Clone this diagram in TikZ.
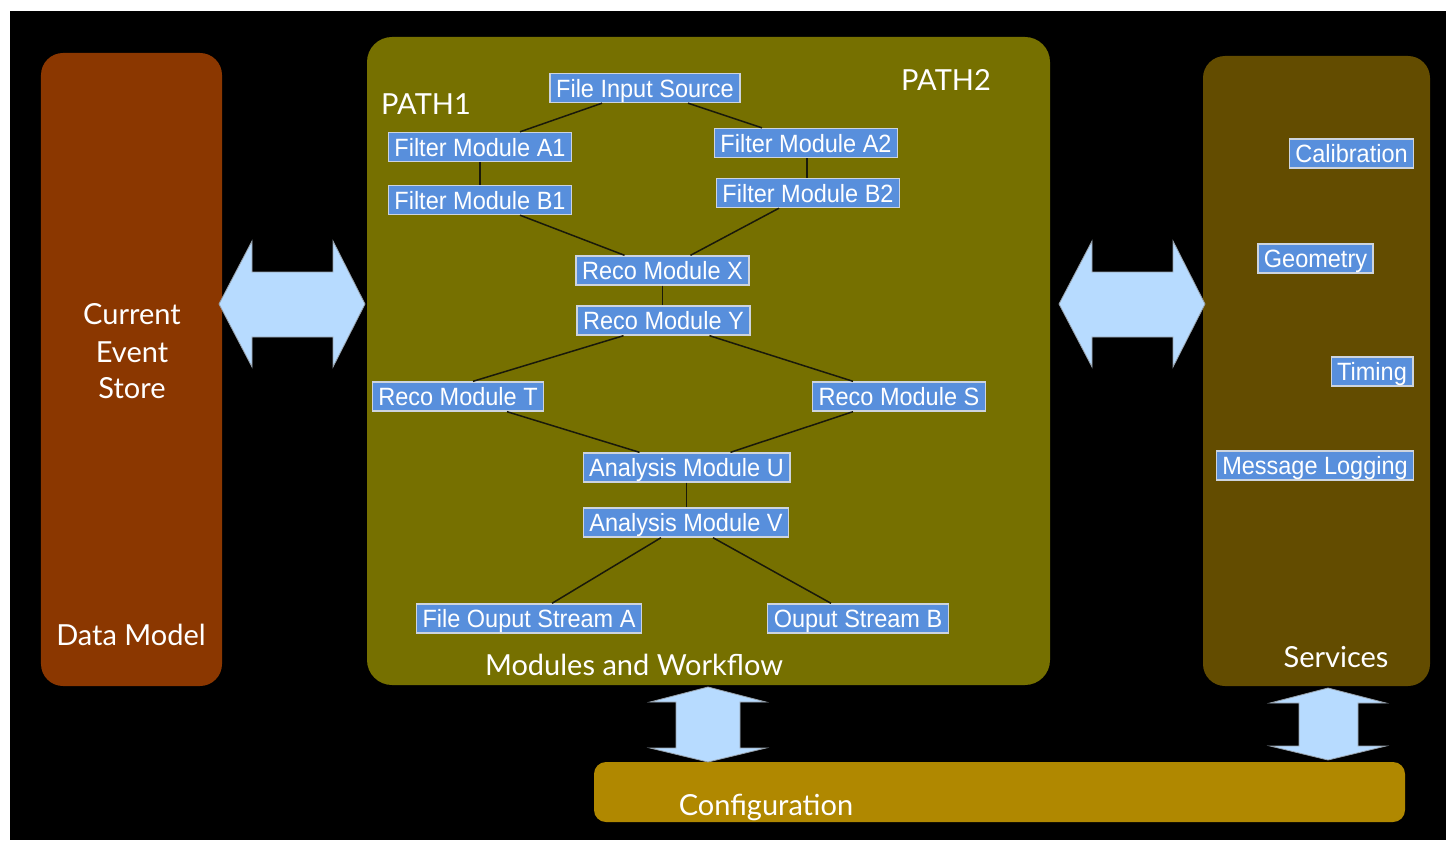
\documentclass[tikz,border=0pt]{standalone}
\usepackage{fontspec}
\setmainfont{Liberation Sans}
\newfontfamily\helv[FakeStretch=0.94]{Liberation Sans}
\newfontfamily\gill{Lato}
\usetikzlibrary{calc}
\definecolor{dmcol}{RGB}{139,55,0}
\definecolor{mwcol}{RGB}{118,112,0}
\definecolor{svcol}{RGB}{99,76,0}
\definecolor{cfcol}{RGB}{176,136,0}
\definecolor{arcol}{RGB}{183,219,255}
\definecolor{aredge}{RGB}{150,160,170}
\definecolor{modcol}{RGB}{88,143,220}
\definecolor{modedge}{RGB}{205,212,222}
\definecolor{linkcol}{RGB}{25,25,10}
\begin{document}
\begin{tikzpicture}[x=1bp,y=-1bp,
  panel/.style={rounded corners=22bp, inner sep=0pt, draw=none},
  mod/.style={fill=modcol, draw=modedge, line width=1.4bp, inner xsep=6bp, inner ysep=0pt,
    minimum height=29bp, text height=18bp, text depth=0bp, text=white,
    font=\helv\fontsize{25bp}{28bp}\selectfont},
  link/.style={draw=linkcol, line width=1.5bp},
  biglbl/.style={text=white, font=\gill\fontsize{29bp}{37bp}\selectfont, align=center, inner sep=0pt, anchor=base},
  bigarrow/.style={fill=arcol, draw=aredge, line width=0.8bp, line join=miter}
]
\useasboundingbox (0,0) rectangle (1446,840);
\fill[white] (0,0) rectangle (1446,840);
\fill[black] (10,11) rectangle (1446,840);

% panels
\node[panel, fill=dmcol, minimum width=181bp, minimum height=633bp] (datamodel) at (131.5,369.5) {};
\node[panel, fill=mwcol, minimum width=683bp, minimum height=648bp, rounded corners=25bp] (workflow) at (708.5,361) {};
\node[panel, fill=svcol, minimum width=227bp, minimum height=630bp] (services) at (1316.5,371) {};
\node[panel, fill=cfcol, minimum width=811bp, minimum height=60bp, rounded corners=12bp] (config) at (999.5,792) {};

% panel labels
\node[biglbl] (store) at (132,324) {Current};
\node[biglbl] (store2) at (132,362) {Event};
\node[biglbl] (store3) at (132,398) {Store};
\node[biglbl] (dmlbl) at (131,645) {Data Model};
\node[biglbl] (mwlbl) at (634,675) {Modules and Workflow};
\node[biglbl] (svlbl) at (1336,667) {Services};
\node[biglbl] (cflbl) at (766,815) {Configuration};
\node[biglbl] (path1) at (426,114) {PATH1};
\node[biglbl] (path2) at (946,90) {PATH2};

% big arrows
\draw[bigarrow] (219,304) -- (252,241) -- (252,272) -- (333,272) -- (333,241) -- (365,304)
  -- (333,367) -- (333,337) -- (252,337) -- (252,367) -- cycle;
\draw[bigarrow] (1059,304) -- (1092,241) -- (1092,272) -- (1173,272) -- (1173,241) -- (1205,304)
  -- (1173,367) -- (1173,337) -- (1092,337) -- (1092,367) -- cycle;
\draw[bigarrow] (708,687) -- (766,702) -- (740,702) -- (740,748) -- (766,748) -- (708,762)
  -- (650,748) -- (676,748) -- (676,702) -- (650,702) -- cycle;
\draw[bigarrow] (1328,688) -- (1386,703) -- (1358,703) -- (1358,746) -- (1386,746) -- (1328,760)
  -- (1270,746) -- (1299,746) -- (1299,703) -- (1270,703) -- cycle;

% modules
\node[mod] (fis) at (645,88) {File Input Source};
\node[mod] (fa1) at (480,147) {Filter Module A1};
\node[mod] (fb1) at (480,200) {Filter Module B1};
\node[mod] (fa2) at (806,143) {Filter Module A2};
\node[mod] (fb2) at (808,193) {Filter Module B2};
\node[mod] (rx) at (662.5,270.5) {Reco Module X};
\node[mod] (ry) at (663.5,320.5) {Reco Module Y};
\node[mod] (rt) at (458,396.5) {Reco Module T};
\node[mod] (rs) at (899,396.5) {Reco Module S};
\node[mod] (au) at (686.5,467.5) {Analysis Module U};
\node[mod] (av) at (686,522.5) {Analysis Module V};
\node[mod] (oa) at (529,618.5) {File Ouput Stream A};
\node[mod] (ob) at (858,618.5) {Ouput Stream B};

% services
\node[mod] (cal) at (1351.5,153.5) {Calibration};
\node[mod] (geo) at (1315.5,258.5) {Geometry};
\node[mod] (tim) at (1372,371.5) {Timing};
\node[mod] (msg) at (1315,465.5) {Message Logging};

% links
\draw[link] ([xshift=-43bp]fis.south) -- ([xshift=40bp]fa1.north);
\draw[link] ([xshift=43bp]fis.south) -- ([xshift=-44bp]fa2.north);
\draw[link] (fa1.south) -- (fa1.south |- fb1.north);
\draw[link] ([xshift=1bp]fa2.south) -- ([xshift=1bp]fa2.south |- fb2.north);
\draw[link] ([xshift=40bp]fb1.south) -- ([xshift=-38bp]rx.north);
\draw[link] ([xshift=-29bp]fb2.south) -- ([xshift=28bp]rx.north);
\draw[link] (rx.south) -- (rx.south |- ry.north);
\draw[link] ([xshift=-40bp]ry.south) -- ([xshift=15bp]rt.north);
\draw[link] ([xshift=46bp]ry.south) -- ([xshift=-46bp]rs.north);
\draw[link] ([xshift=49bp]rt.south) -- ([xshift=-47bp]au.north);
\draw[link] ([xshift=-46bp]rs.south) -- ([xshift=44bp]au.north);
\draw[link] (au.south) -- (au.south |- av.north);
\draw[link] ([xshift=-25bp]av.south) -- ([xshift=23bp]oa.north);
\draw[link] ([xshift=27bp]av.south) -- ([xshift=-27bp]ob.north);
\end{tikzpicture}
\end{document}
